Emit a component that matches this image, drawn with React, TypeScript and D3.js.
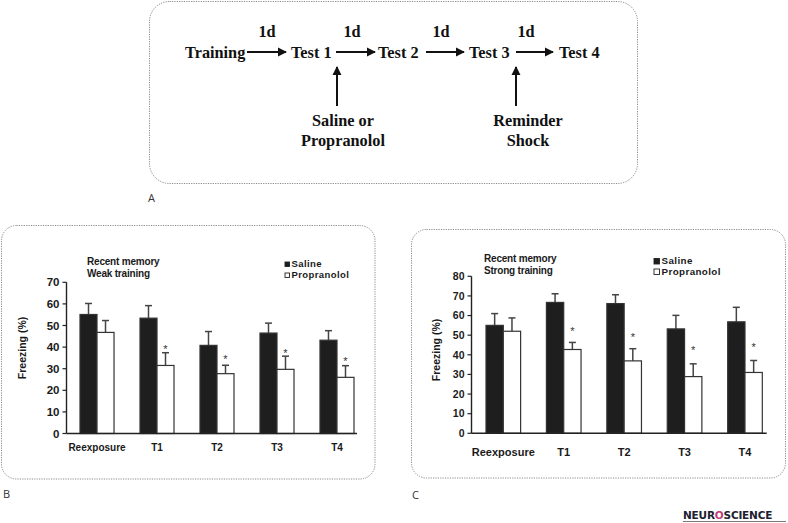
import React from 'react';
import * as d3 from 'd3';

// ---------- Data ----------
const categories = ['Reexposure', 'T1', 'T2', 'T3', 'T4'];
const seriesNames = ['Saline', 'Propranolol'];

// Panel B: recent memory, weak training
const weakSaline = [55.1, 53.4, 40.8, 46.5, 43.2];
const weakSalineErr = [5.1, 5.8, 6.4, 4.6, 4.4];
const weakProp = [46.8, 31.5, 27.7, 29.7, 26.0];
const weakPropErr = [5.5, 5.9, 3.9, 6.1, 5.4];
const weakStar: (number | null)[] = [null, 39.4, 34.8, 37.8, 34.0];
const weakTicks = [0, 10, 20, 30, 40, 50, 60, 70];

// Panel C: recent memory, strong training
const strongSaline = [55.0, 66.7, 66.1, 53.2, 56.8];
const strongSalineErr = [6.0, 4.4, 4.5, 6.9, 7.4];
const strongProp = [52.0, 42.7, 36.9, 28.9, 31.0];
const strongPropErr = [6.8, 3.6, 6.2, 6.5, 6.1];
const strongStar: (number | null)[] = [null, 52.4, 49.7, 42.9, 44.7];
const strongTicks = [0, 10, 20, 30, 40, 50, 60, 70, 80];

// Panel A: protocol diagram
const stages = ['Training', 'Test 1', 'Test 2', 'Test 3', 'Test 4'];
const intervals = ['1d', '1d', '1d', '1d'];
const interventionLines = [['Saline or', 'Propranolol'], ['Reminder', 'Shock']];
const interventionStage = [1, 3];

// ---------- Layout (not data) ----------
const stageTextX = [185, 291, 378, 469, 559];
const arrowSpans = [[247, 286], [336, 375], [426, 464], [516, 553]];
const intervalX = [267, 352, 441, 526];
const upArrowX = [337, 516];
const interventionX = [343, 528];

const SANS = "'Liberation Sans', Arial, sans-serif";
const SERIF = "'Liberation Serif', 'Times New Roman', serif";
const INK = '#1a1a1a';

type PanelProps = {
  box: { x: number; y: number; w: number; h: number; r: number };
  axisX: number;
  yRange: [number, number];
  yMax: number;
  ticks: number[];
  barRange: [number, number];
  padInner: number;
  xAxisEnd: number;
  saline: number[];
  salineErr: number[];
  prop: number[];
  propErr: number[];
  star: (number | null)[];
  tickFont: number;
  catFont: number;
  catBaseline: number;
  ylab: [number, number];
  titleLines: string[];
  titleX: number;
  titleY: [number, number];
  legSq: number;
  legX: number;
  legY: [number, number];
  legFont: number;
};

function BarPanel(p: PanelProps) {
  const y = d3.scaleLinear().domain([0, p.yMax]).range(p.yRange);
  const x0 = d3.scaleBand<string>().domain(categories).range(p.barRange).paddingInner(p.padInner).paddingOuter(0);
  const x1 = d3.scaleBand<string>().domain(seriesNames).range([0, x0.bandwidth()]).padding(0);
  const bw = x1.bandwidth();
  const vals = [p.saline, p.prop];
  const errs = [p.salineErr, p.propErr];
  const fills = ['#1e1e1e', '#ffffff'];
  return (
    <g>
      <rect x={p.box.x} y={p.box.y} width={p.box.w} height={p.box.h} rx={p.box.r} ry={p.box.r}
        fill="white" stroke="#8a8a8a" strokeWidth={1} strokeDasharray="1.2,1.2" />
      {categories.map((c, i) => (
        <g key={c}>
          {seriesNames.map((s, k) => {
            const bx = (x0(c) as number) + (x1(s) as number);
            const top = y(vals[k][i]);
            const et = y(vals[k][i] + errs[k][i]);
            const cx = bx + bw / 2;
            return (
              <g key={s}>
                <line x1={cx} x2={cx} y1={top} y2={et} stroke="#444" strokeWidth={1.5} />
                <line x1={cx - 3.5} x2={cx + 3.5} y1={et} y2={et} stroke="#444" strokeWidth={1.5} />
                <rect x={bx} y={top} width={bw} height={y(0) - top} fill={fills[k]} stroke="#333" strokeWidth={1.2} />
              </g>
            );
          })}
          {p.star[i] != null && (
            <text x={(x0(c) as number) + (x1('Propranolol') as number) + bw / 2} y={y(p.star[i] as number) + 5}
              textAnchor="middle" fontFamily={SANS} fontSize={11} fill="#333">*</text>
          )}
          <text x={(x0(c) as number) + x0.bandwidth() / 2} y={p.catBaseline} textAnchor="middle"
            fontFamily={SANS} fontWeight="bold" fontSize={p.catFont} fill={INK}>{c}</text>
        </g>
      ))}
      <line x1={p.axisX} x2={p.axisX} y1={y(0)} y2={y(p.yMax)} stroke="#222" strokeWidth={1.4} />
      <line x1={p.axisX} x2={p.xAxisEnd} y1={y(0)} y2={y(0)} stroke="#222" strokeWidth={1.4} />
      {p.ticks.map(t => (
        <g key={t}>
          <line x1={p.axisX - 4} x2={p.axisX} y1={y(t)} y2={y(t)} stroke="#222" strokeWidth={1.2} />
          <text x={p.axisX - 7} y={y(t)} dy="0.36em" textAnchor="end" fontFamily={SANS} fontWeight="bold"
            fontSize={p.tickFont} fill={INK}>{t}</text>
        </g>
      ))}
      <text transform={`translate(${p.ylab[0]},${p.ylab[1]}) rotate(-90)`} textAnchor="middle" dy="0.35em"
        fontFamily={SANS} fontWeight="bold" fontSize={10.5} fill={INK}>Freezing (%)</text>
      {p.titleLines.map((t, i) => (
        <text key={t} x={p.titleX} y={p.titleY[i]} fontFamily={SANS} fontWeight="bold" fontSize={10}
          letterSpacing={-0.2} fill={INK}>{t}</text>
      ))}
      {seriesNames.map((s, k) => (
        <g key={s}>
          <rect x={p.legX} y={p.legY[k] - p.legSq} width={p.legSq} height={p.legSq}
            fill={fills[k]} stroke="#222" strokeWidth={0.9} />
          <text x={p.legX + p.legSq + 2} y={p.legY[k]} fontFamily={SANS} fontWeight="bold" fontSize={p.legFont}
            letterSpacing={0.4} fill={INK}>{s}</text>
        </g>
      ))}
    </g>
  );
}

function Diagram() {
  return (
    <g>
      <defs>
        <marker id="ah" viewBox="0 0 10 10" refX="9" refY="5" markerWidth="4.6" markerHeight="4.6"
          markerUnits="strokeWidth" orient="auto">
          <path d="M0,0 L10,5 L0,10 z" fill="#111" />
        </marker>
      </defs>
      <rect x={149.5} y={1.5} width={488} height={182} rx={20} ry={20} fill="white"
        stroke="#8a8a8a" strokeWidth={1} strokeDasharray="1.2,1.2" />
      {stages.map((s, i) => (
        <text key={s} x={stageTextX[i]} y={57.5} fontFamily={SERIF} fontWeight="bold" fontSize={16.3} fill="#111">{s}</text>
      ))}
      {intervals.map((d, i) => (
        <g key={i}>
          <text x={intervalX[i]} y={37} textAnchor="middle" fontFamily={SERIF} fontWeight="bold"
            fontSize={16.3} fill="#111">{d}</text>
          <line x1={arrowSpans[i][0]} x2={arrowSpans[i][1]} y1={52} y2={52} stroke="#111" strokeWidth={2}
            markerEnd="url(#ah)" />
        </g>
      ))}
      {interventionLines.map((lines, j) => (
        <g key={j} data-stage={interventionStage[j]}>
          <line x1={upArrowX[j]} x2={upArrowX[j]} y1={106} y2={67} stroke="#111" strokeWidth={2} markerEnd="url(#ah)" />
          {lines.map((l, k) => (
            <text key={l} x={interventionX[j]} y={126 + k * 19.5} textAnchor="middle" fontFamily={SERIF}
              fontWeight="bold" fontSize={16.3} fill="#111">{l}</text>
          ))}
        </g>
      ))}
      <text x={148} y={202} fontFamily="'Open Sans', 'DejaVu Sans', sans-serif" fontSize={11} fill="#333">A</text>
    </g>
  );
}

export default function App() {
  return (
    <svg width={788} height={523} style={{ position: 'absolute', left: 0, top: 0, background: 'white' }}>
      <rect x={0} y={0} width={788} height={523} fill="white" />
      <Diagram />
      <BarPanel
        box={{ x: 1.5, y: 225.5, w: 373.5, h: 253.5, r: 15 }}
        axisX={66.5} yRange={[433.5, 282.3]} yMax={70} ticks={weakTicks}
        barRange={[80, 354]} padInner={0.433} xAxisEnd={357}
        saline={weakSaline} salineErr={weakSalineErr} prop={weakProp} propErr={weakPropErr} star={weakStar}
        tickFont={11.5} catFont={10} catBaseline={451} ylab={[22, 348]}
        titleLines={['Recent memory', 'Weak training']} titleX={87} titleY={[264.5, 276.5]}
        legSq={4.5} legX={285} legY={[266.5, 277.5]} legFont={9.5}
      />
      <BarPanel
        box={{ x: 411.5, y: 229.5, w: 374, h: 248.5, r: 15 }}
        axisX={471.5} yRange={[433.3, 276.3]} yMax={80} ticks={strongTicks}
        barRange={[486, 762.3]} padInner={0.427} xAxisEnd={766.7}
        saline={strongSaline} salineErr={strongSalineErr} prop={strongProp} propErr={strongPropErr} star={strongStar}
        tickFont={10.5} catFont={11} catBaseline={455.7} ylab={[436, 350]}
        titleLines={['Recent memory', 'Strong training']} titleX={484} titleY={[262, 273.5]}
        legSq={5.5} legX={654} legY={[264, 274.5]} legFont={9.8}
      />
      <text x={3} y={498} fontFamily="'Open Sans', 'DejaVu Sans', sans-serif" fontSize={11} fill="#333">B</text>
      <text x={412} y={499} fontFamily="'Open Sans', 'DejaVu Sans', sans-serif" fontSize={11} fill="#333">C</text>
      <text x={683} y={519} fontFamily="'DejaVu Sans', sans-serif" fontWeight="bold" fontSize={10.5}
        letterSpacing={-0.2} fill="#1c2030">NEUR<tspan fill="#c2407a">O</tspan>SCIENCE</text>
      <line x1={683} x2={786} y1={521.5} y2={521.5} stroke="#555" strokeWidth={0.8} />
    </svg>
  );
}
